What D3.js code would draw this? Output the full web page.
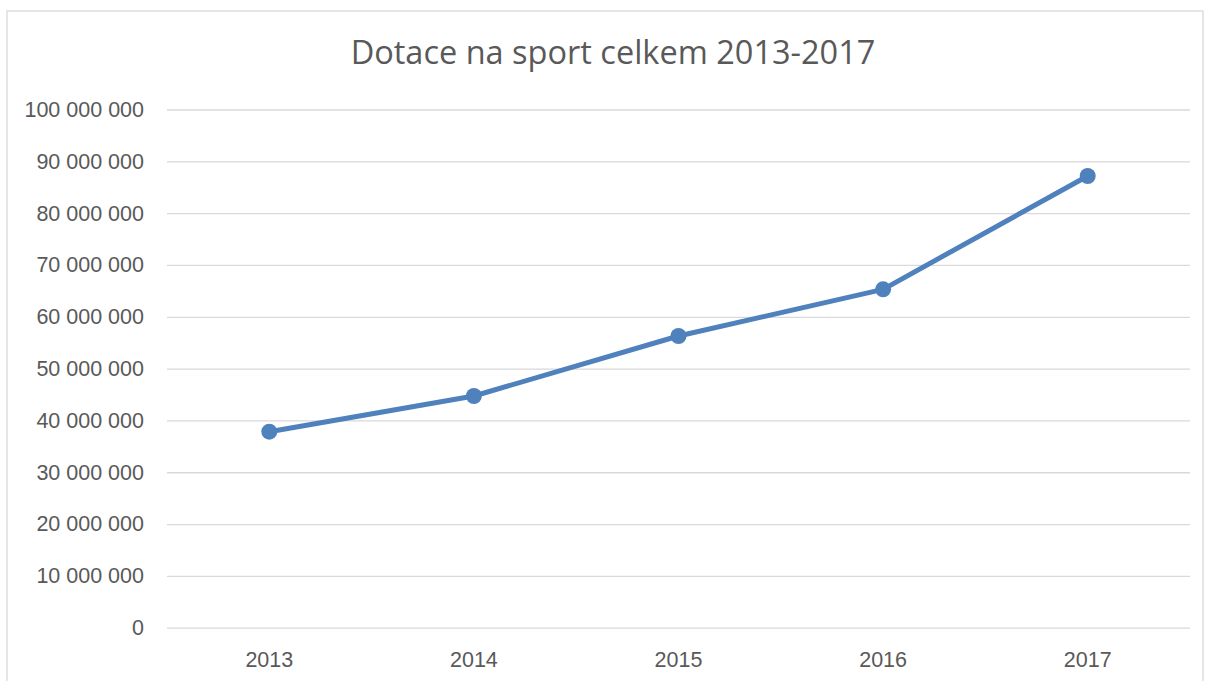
<!DOCTYPE html>
<html>
<head>
<meta charset="utf-8">
<script src="https://cdn.jsdelivr.net/npm/d3@7"></script>
<style>
  body { margin: 0; background: #fff; }
  svg { display: block; font-family: "Open Sans", "Liberation Sans", sans-serif; }
</style>
</head>
<body>
<svg id="chart" width="1206" height="681"></svg>
<script>
const years = ['2013', '2014', '2015', '2016', '2017'];
const totals = [37820000, 44710000, 56290000, 65300000, 87170000];
const yTicks = [0, 10000000, 20000000, 30000000, 40000000, 50000000, 60000000, 70000000, 80000000, 90000000, 100000000];
const title = 'Dotace na sport celkem 2013-2017';

const svg = d3.select('#chart');
const m = { left: 167, right: 1190, top: 109.5, bottom: 627.7 };
const textColor = '#595959';
const lineColor = '#4f81bd';

// outer frame
svg.append('rect')
  .attr('x', 7).attr('y', 11)
  .attr('width', 1196).attr('height', 690)
  .attr('fill', '#fff')
  .attr('stroke', '#d9d9d9')
  .attr('stroke-width', 1.3);

const x = d3.scaleBand().domain(years).range([m.left, m.right]);
const y = d3.scaleLinear().domain([0, 100000000]).range([m.bottom, m.top]);

const fmt = v => d3.format(',')(v).replace(/,/g, ' ');

// gridlines + y labels
const yAxis = d3.axisLeft(y).tickValues(yTicks).tickSize(-(m.right - m.left)).tickPadding(23).tickFormat(fmt);
const gy = svg.append('g').attr('transform', `translate(${m.left},0)`).call(yAxis);
gy.select('.domain').remove();
gy.selectAll('.tick line').attr('stroke', '#d9d9d9').attr('stroke-width', 1.3);
gy.selectAll('.tick text').attr('fill', textColor).style('font-size', '21.5px');

// x labels
const xAxis = d3.axisBottom(x).tickSize(0).tickPadding(24);
const gx = svg.append('g').attr('transform', `translate(0,${m.bottom})`).call(xAxis);
gx.select('.domain').remove();
gx.selectAll('.tick text').attr('fill', textColor).style('font-size', '21.5px');

// title
svg.append('text')
  .attr('x', 613).attr('y', 64)
  .attr('text-anchor', 'middle')
  .attr('fill', textColor)
  .style('font-size', '32.5px')
  .text(title);

const data = years.map((d, i) => ({ dim: d, metric: totals[i] }));
const cx = d => x(d.dim) + x.bandwidth() / 2;

svg.append('path')
  .datum(data)
  .attr('fill', 'none')
  .attr('stroke', lineColor)
  .attr('stroke-width', 5)
  .attr('stroke-linejoin', 'round')
  .attr('d', d3.line().x(cx).y(d => y(d.metric)));

svg.selectAll('circle.pt')
  .data(data)
  .enter().append('circle')
  .attr('class', 'pt')
  .attr('cx', cx)
  .attr('cy', d => y(d.metric))
  .attr('r', 8)
  .attr('fill', lineColor);
</script>
</body>
</html>
